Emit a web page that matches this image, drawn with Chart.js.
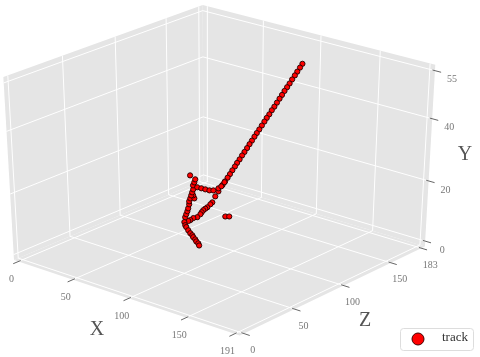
<!DOCTYPE html>
<html>
<head>
<meta charset="utf-8">
<title>track</title>
<script src="https://cdn.jsdelivr.net/npm/chart.js@4"></script>
<style>
    body { margin: 0; background: #fff; }
    canvas { display: block; }
</style>
</head>
<body>
<canvas id="chart" width="480" height="357"></canvas>
<script>
// tick labels of the three axes
const xTicks = [0, 50, 100, 150, 191];
const zTicks = [0, 50, 100, 150, 183];
const yTicks = [0, 20, 40, 55];

// track values
const trackX = [120,118.7,117.2,115.9,114.4,113,111.6,110.2,108.8,107.5,106,104.6,103.1,101.8,100.3,99,97.6,96.1,94.7,93.4,92,90.6,89.2,87.7,86.3,84.9,83.4,82.2,80.7,79.3,78,76.4,75,
    77,77.8,76.2,73.9,72.3,71.1,70.1,69.9,69.8,68.1,63.5,62.6,60.8,60,
    64.3,63.5,68.4,69.4,72.9,72.1,75.8,78.8,78.6,81.6,
    61.8,62.4,63,63.5,62.8,62.8,63.5,65.6,65,64,64.5,65.1,63.8,64.5,65,65,
    64.6,68,71.4,74.8,76.9,77,76,72.6,
    67.7,69.8];
const trackZ = [144,143.2,142.3,141.5,140.6,139.8,139,138.1,137.3,136.4,135.6,134.7,133.9,133,132.2,131.4,130.5,129.7,128.8,128,127.1,126.3,125.5,124.6,123.8,122.9,122.1,121.3,120.4,119.6,118.7,117.9,117,
    110.5,106.4,105.2,105.8,104.5,103.8,102.9,101.5,100.3,99,100.2,98.2,98.1,95,
    91.1,93,89.5,90.4,88.5,90.3,88.2,85.9,88.1,85.6,
    93.9,94.3,94.8,95.1,96.9,96.9,97.3,99,98.5,97.7,98.1,98.5,99.8,100.3,100.7,95.6,
    103.1,103.4,103.6,103.9,105.5,110.5,114.6,121.7,
    128.2,129.9];
const trackY = [55,53.8,52.5,51.3,50,48.7,47.5,46.3,45,43.8,42.5,41.2,40,38.7,37.5,36.3,35,33.7,32.5,31.3,30,28.8,27.5,26.2,25,23.7,22.5,21.3,20,18.7,17.5,16.2,15,
    14,13,11,10,9,8.5,8,7.5,7,6,5,4.5,4,4,
    4,3,3,2,2,1,1,1,0,0,
    6,7,8,9,10,11,12,12,13,13,14,15,16,17,18,20,
    15,15,15,15,15,15,15,15,
    2,2];

const xMax = 191, zMax = 183, yMax = 55;
const paneX = [-4.2, 195.2], paneZ = [-4, 187], paneY = [-1.8, 56.8];

// camera
const azim = 50 * Math.PI / 180, elev = 30 * Math.PI / 180, dist = 10;
const kx = 2989, ky = 2100, cx = 220.5, cy = 164.3;

function project(x, y, z) {
    let rx = (x / xMax - 0.5) * 0.958;
    let ry = (z / zMax - 0.5) * 0.958;
    let rz = (y / yMax - 0.5) * 0.94;
    let sa = Math.sin(azim), ca = Math.cos(azim), se = Math.sin(elev), ce = Math.cos(elev);
    let u = sa * rx + ca * ry;
    let v = -ca * se * rx + sa * se * ry + ce * rz;
    let n = ca * ce * rx - sa * ce * ry + se * rz;
    let d = dist - n;
    return { x: cx + kx * u / d, y: cy - ky * v / d };
}

function segments(list) {
    let out = [];
    list.forEach(s => {
        out.push(project(...s[0]), project(...s[1]), { x: NaN, y: NaN });
    });
    return out;
}

function pane(a, b, c, d) {
    return {
        data: [project(...a), project(...b), project(...c), project(...d), project(...a)],
        showLine: true, fill: 'shape', backgroundColor: '#e5e5e5',
        borderWidth: 0, pointRadius: 0, order: 5
    };
}

const x0 = paneX[0], x1 = paneX[1], z0 = paneZ[0], z1 = paneZ[1], y0 = paneY[0], y1 = paneY[1];

let gridLines = [], tickLines = [];
xTicks.forEach(t => {
    gridLines.push([[t, y0, z0], [t, y0, z1]], [[t, y0, z1], [t, y1, z1]]);
    tickLines.push([[t, y0, z0 + 2], [t, y0, z0 - 5]]);
});
zTicks.forEach(t => {
    gridLines.push([[x0, y0, t], [x1, y0, t]], [[x0, y0, t], [x0, y1, t]]);
    tickLines.push([[x1 - 2, y0, t], [x1 + 5, y0, t]]);
});
yTicks.forEach(t => {
    gridLines.push([[x0, t, z0], [x0, t, z1]], [[x0, t, z1], [x1, t, z1]]);
    tickLines.push([[x1 - 2, t, z1], [x1 + 5, t, z1]]);
});

const trackPoints = trackX.map((v, i) => project(v, trackY[i], trackZ[i]));

// labels and legend
const textPlugin = {
    id: 'axisText',
    afterDraw(chart) {
        let ctx = chart.ctx;
        let sx = chart.scales.x, sy = chart.scales.y;
        ctx.save();
        ctx.textAlign = 'center';
        ctx.textBaseline = 'middle';
        ctx.font = '10px "Liberation Serif"';
        ctx.fillStyle = '#777';
        xTicks.forEach(t => {
            let p = project(t, y0, z0);
            ctx.fillText(String(t), sx.getPixelForValue(p.x) - 7, sy.getPixelForValue(p.y) + 18);
        });
        zTicks.forEach(t => {
            let p = project(x1, y0, t);
            ctx.fillText(String(t), sx.getPixelForValue(p.x) + 9, sy.getPixelForValue(p.y) + 17);
        });
        yTicks.forEach(t => {
            let p = project(x1, t, z1);
            ctx.fillText(String(t), sx.getPixelForValue(p.x) + 17, sy.getPixelForValue(p.y) + 9);
        });
        ctx.font = '20px "Liberation Serif"';
        ctx.fillStyle = '#555';
        ctx.fillText('X', 97, 330);
        ctx.fillText('Z', 365, 321);
        ctx.fillText('Y', 465, 155);

        // legend box
        ctx.beginPath();
        ctx.roundRect(400.5, 328.5, 73, 22, 3);
        ctx.fillStyle = '#fff';
        ctx.fill();
        ctx.strokeStyle = '#ddd';
        ctx.lineWidth = 1;
        ctx.stroke();
        ctx.beginPath();
        ctx.arc(418, 339, 6, 0, Math.PI * 2);
        ctx.fillStyle = '#ff0000';
        ctx.fill();
        ctx.strokeStyle = '#400';
        ctx.stroke();
        ctx.textAlign = 'left';
        ctx.font = '13px "Liberation Serif"';
        ctx.fillStyle = '#333';
        ctx.fillText(chart.data.datasets[chart.data.datasets.length - 1].label, 442, 338);
        ctx.restore();
    }
};

new Chart(document.getElementById('chart').getContext('2d'), {
    type: 'scatter',
    data: {
        datasets: [
            pane([x0, y0, z0], [x0, y0, z1], [x1, y0, z1], [x1, y0, z0]),
            pane([x0, y0, z0], [x0, y1, z0], [x0, y1, z1], [x0, y0, z1]),
            pane([x0, y0, z1], [x0, y1, z1], [x1, y1, z1], [x1, y0, z1]),
            { data: segments(gridLines), showLine: true, borderColor: '#ffffff', borderWidth: 1, pointRadius: 0, spanGaps: false, order: 4 },
            { data: segments(tickLines), showLine: true, borderColor: '#666666', borderWidth: 1, pointRadius: 0, spanGaps: false, order: 3 },
            {
                label: 'track', data: trackPoints, showLine: false,
                backgroundColor: '#ff0000', borderColor: 'rgba(30,0,0,0.9)', borderWidth: 1,
                pointRadius: 2.6, pointHoverRadius: 2.6, order: 1
            }
        ]
    },
    options: {
        responsive: false,
        animation: false,
        layout: { padding: 0, autoPadding: false },
        plugins: { legend: { display: false }, tooltip: { enabled: false } },
        scales: {
            x: { type: 'linear', display: false, min: 0, max: 480 },
            y: { type: 'linear', display: false, min: 0, max: 357, reverse: true }
        }
    },
    plugins: [textPlugin]
});
</script>
</body>
</html>
